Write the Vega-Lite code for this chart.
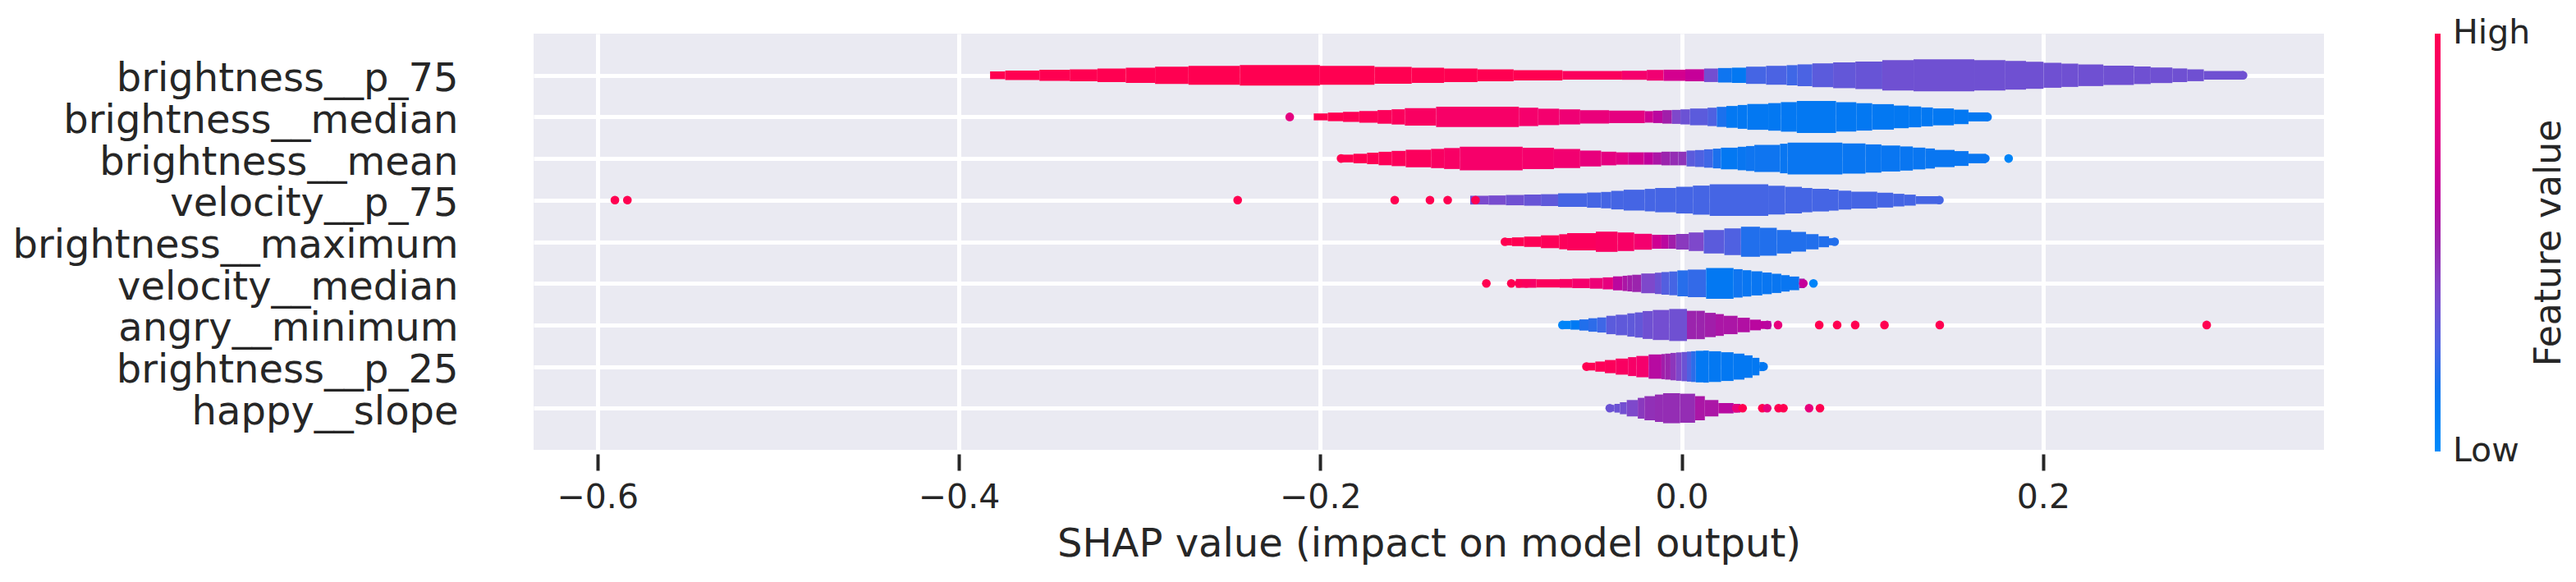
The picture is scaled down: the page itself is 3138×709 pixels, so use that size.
{
  "$schema": "https://vega.github.io/schema/vega-lite/v6.json",
  "width": 2181,
  "height": 507,
  "autosize": {"type": "none"},
  "padding": {"left": 650, "top": 41, "right": 307, "bottom": 161},
  "background": "#ffffff",
  "config": {
    "font": "DejaVu Sans",
    "view": {"fill": "#eaeaf2", "stroke": null},
    "axis": {"titleFontWeight": "normal"}
  },
  "datasets": {
    "features": [
      {"f": "brightness__p_75", "rank": 0},
      {"f": "brightness__median", "rank": 1},
      {"f": "brightness__mean", "rank": 2},
      {"f": "velocity__p_75", "rank": 3},
      {"f": "brightness__maximum", "rank": 4},
      {"f": "velocity__median", "rank": 5},
      {"f": "angry__minimum", "rank": 6},
      {"f": "brightness__p_25", "rank": 7},
      {"f": "happy__slope", "rank": 8}
    ],
    "dots": [
      {"f": "brightness__p_75", "x": 0.3106, "v": 0.34},
      {"f": "brightness__median", "x": -0.2169, "v": 0.78},
      {"f": "brightness__median", "x": 0.1692, "v": 0.13},
      {"f": "brightness__mean", "x": -0.1885, "v": 1},
      {"f": "brightness__mean", "x": 0.168, "v": 0.14},
      {"f": "brightness__mean", "x": 0.1809, "v": 0.05},
      {"f": "velocity__p_75", "x": -0.5903, "v": 1},
      {"f": "velocity__p_75", "x": -0.5834, "v": 1},
      {"f": "velocity__p_75", "x": -0.2457, "v": 1},
      {"f": "velocity__p_75", "x": -0.1588, "v": 1},
      {"f": "velocity__p_75", "x": -0.1393, "v": 1},
      {"f": "velocity__p_75", "x": -0.1295, "v": 1},
      {"f": "velocity__p_75", "x": -0.1141, "v": 1},
      {"f": "velocity__p_75", "x": 0.1426, "v": 0.24},
      {"f": "brightness__maximum", "x": -0.0978, "v": 1},
      {"f": "brightness__maximum", "x": 0.0846, "v": 0.18},
      {"f": "velocity__median", "x": -0.1081, "v": 1},
      {"f": "velocity__median", "x": -0.0943, "v": 1},
      {"f": "velocity__median", "x": -0.09, "v": 0.97},
      {"f": "velocity__median", "x": -0.086, "v": 0.95},
      {"f": "velocity__median", "x": 0.0673, "v": 0.64},
      {"f": "velocity__median", "x": 0.0729, "v": 0.05},
      {"f": "angry__minimum", "x": -0.066, "v": 0.05},
      {"f": "angry__minimum", "x": 0.0474, "v": 0.6},
      {"f": "angry__minimum", "x": 0.0533, "v": 0.8},
      {"f": "angry__minimum", "x": 0.0761, "v": 1},
      {"f": "angry__minimum", "x": 0.086, "v": 1},
      {"f": "angry__minimum", "x": 0.096, "v": 1},
      {"f": "angry__minimum", "x": 0.1122, "v": 1},
      {"f": "angry__minimum", "x": 0.1428, "v": 1},
      {"f": "angry__minimum", "x": 0.2905, "v": 1},
      {"f": "brightness__p_25", "x": -0.0527, "v": 1},
      {"f": "brightness__p_25", "x": 0.0453, "v": 0.13},
      {"f": "happy__slope", "x": -0.0398, "v": 0.33},
      {"f": "happy__slope", "x": 0.0302, "v": 0.8},
      {"f": "happy__slope", "x": 0.0337, "v": 1},
      {"f": "happy__slope", "x": 0.0446, "v": 1},
      {"f": "happy__slope", "x": 0.0473, "v": 0.8},
      {"f": "happy__slope", "x": 0.0536, "v": 1},
      {"f": "happy__slope", "x": 0.0563, "v": 1},
      {"f": "happy__slope", "x": 0.0705, "v": 0.8},
      {"f": "happy__slope", "x": 0.0765, "v": 1}
    ],
    "violin": [
      {"f": "brightness__p_75", "a": -0.3827, "b": -0.3743, "w": 0.093, "v": 1},
      {"f": "brightness__p_75", "a": -0.3743, "b": -0.3554, "w": 0.112, "v": 1},
      {"f": "brightness__p_75", "a": -0.3554, "b": -0.3386, "w": 0.132, "v": 1},
      {"f": "brightness__p_75", "a": -0.3386, "b": -0.3233, "w": 0.144, "v": 1},
      {"f": "brightness__p_75", "a": -0.3233, "b": -0.3076, "w": 0.164, "v": 1},
      {"f": "brightness__p_75", "a": -0.3076, "b": -0.2914, "w": 0.183, "v": 1},
      {"f": "brightness__p_75", "a": -0.2914, "b": -0.2729, "w": 0.207, "v": 1},
      {"f": "brightness__p_75", "a": -0.2729, "b": -0.2445, "w": 0.227, "v": 1},
      {"f": "brightness__p_75", "a": -0.2445, "b": -0.2002, "w": 0.247, "v": 1},
      {"f": "brightness__p_75", "a": -0.2002, "b": -0.17, "w": 0.227, "v": 1},
      {"f": "brightness__p_75", "a": -0.17, "b": -0.1494, "w": 0.203, "v": 1},
      {"f": "brightness__p_75", "a": -0.1494, "b": -0.1315, "w": 0.183, "v": 1},
      {"f": "brightness__p_75", "a": -0.1315, "b": -0.113, "w": 0.162, "v": 1},
      {"f": "brightness__p_75", "a": -0.113, "b": -0.093, "w": 0.142, "v": 1},
      {"f": "brightness__p_75", "a": -0.093, "b": -0.066, "w": 0.122, "v": 1},
      {"f": "brightness__p_75", "a": -0.066, "b": -0.033, "w": 0.103, "v": 0.95},
      {"f": "brightness__p_75", "a": -0.033, "b": -0.0193, "w": 0.108, "v": 0.88},
      {"f": "brightness__p_75", "a": -0.0193, "b": -0.01, "w": 0.128, "v": 0.85},
      {"f": "brightness__p_75", "a": -0.01, "b": 0.002, "w": 0.134, "v": 0.7},
      {"f": "brightness__p_75", "a": 0.002, "b": 0.0124, "w": 0.144, "v": 0.64},
      {"f": "brightness__p_75", "a": 0.0124, "b": 0.0201, "w": 0.162, "v": 0.35},
      {"f": "brightness__p_75", "a": 0.0201, "b": 0.0278, "w": 0.174, "v": 0.15},
      {"f": "brightness__p_75", "a": 0.0278, "b": 0.0356, "w": 0.183, "v": 0.13},
      {"f": "brightness__p_75", "a": 0.0356, "b": 0.0467, "w": 0.207, "v": 0.24},
      {"f": "brightness__p_75", "a": 0.0467, "b": 0.0581, "w": 0.227, "v": 0.25},
      {"f": "brightness__p_75", "a": 0.0581, "b": 0.0641, "w": 0.243, "v": 0.23},
      {"f": "brightness__p_75", "a": 0.0641, "b": 0.0723, "w": 0.262, "v": 0.25},
      {"f": "brightness__p_75", "a": 0.0723, "b": 0.0838, "w": 0.286, "v": 0.29},
      {"f": "brightness__p_75", "a": 0.0838, "b": 0.0961, "w": 0.31, "v": 0.31},
      {"f": "brightness__p_75", "a": 0.0961, "b": 0.111, "w": 0.331, "v": 0.32},
      {"f": "brightness__p_75", "a": 0.111, "b": 0.1283, "w": 0.365, "v": 0.34},
      {"f": "brightness__p_75", "a": 0.1283, "b": 0.1619, "w": 0.385, "v": 0.34},
      {"f": "brightness__p_75", "a": 0.1619, "b": 0.1791, "w": 0.365, "v": 0.34},
      {"f": "brightness__p_75", "a": 0.1791, "b": 0.1905, "w": 0.345, "v": 0.34},
      {"f": "brightness__p_75", "a": 0.1905, "b": 0.2002, "w": 0.325, "v": 0.34},
      {"f": "brightness__p_75", "a": 0.2002, "b": 0.2101, "w": 0.3, "v": 0.34},
      {"f": "brightness__p_75", "a": 0.2101, "b": 0.2194, "w": 0.28, "v": 0.34},
      {"f": "brightness__p_75", "a": 0.2194, "b": 0.2333, "w": 0.26, "v": 0.34},
      {"f": "brightness__p_75", "a": 0.2333, "b": 0.2502, "w": 0.233, "v": 0.34},
      {"f": "brightness__p_75", "a": 0.2502, "b": 0.2595, "w": 0.211, "v": 0.34},
      {"f": "brightness__p_75", "a": 0.2595, "b": 0.2715, "w": 0.187, "v": 0.34},
      {"f": "brightness__p_75", "a": 0.2715, "b": 0.2797, "w": 0.164, "v": 0.34},
      {"f": "brightness__p_75", "a": 0.2797, "b": 0.2889, "w": 0.142, "v": 0.34},
      {"f": "brightness__p_75", "a": 0.2889, "b": 0.311, "w": 0.103, "v": 0.34},

      {"f": "brightness__median", "a": -0.2036, "b": -0.1958, "w": 0.083, "v": 1},
      {"f": "brightness__median", "a": -0.1958, "b": -0.1874, "w": 0.103, "v": 1},
      {"f": "brightness__median", "a": -0.1874, "b": -0.1784, "w": 0.122, "v": 0.98},
      {"f": "brightness__median", "a": -0.1784, "b": -0.1683, "w": 0.142, "v": 0.97},
      {"f": "brightness__median", "a": -0.1683, "b": -0.1605, "w": 0.164, "v": 0.96},
      {"f": "brightness__median", "a": -0.1605, "b": -0.1532, "w": 0.183, "v": 0.95},
      {"f": "brightness__median", "a": -0.1532, "b": -0.1359, "w": 0.211, "v": 0.93},
      {"f": "brightness__median", "a": -0.1359, "b": -0.0901, "w": 0.243, "v": 0.9},
      {"f": "brightness__median", "a": -0.0901, "b": -0.0794, "w": 0.221, "v": 0.88},
      {"f": "brightness__median", "a": -0.0794, "b": -0.0678, "w": 0.197, "v": 0.87},
      {"f": "brightness__median", "a": -0.0678, "b": -0.0562, "w": 0.181, "v": 0.84},
      {"f": "brightness__median", "a": -0.0562, "b": -0.0402, "w": 0.162, "v": 0.81},
      {"f": "brightness__median", "a": -0.0402, "b": -0.0204, "w": 0.152, "v": 0.78},
      {"f": "brightness__median", "a": -0.0204, "b": -0.0158, "w": 0.138, "v": 0.68},
      {"f": "brightness__median", "a": -0.0158, "b": -0.0107, "w": 0.148, "v": 0.6},
      {"f": "brightness__median", "a": -0.0107, "b": -0.0054, "w": 0.162, "v": 0.52},
      {"f": "brightness__median", "a": -0.0054, "b": -0.0007, "w": 0.168, "v": 0.38},
      {"f": "brightness__median", "a": -0.0007, "b": 0.0046, "w": 0.181, "v": 0.33},
      {"f": "brightness__median", "a": 0.0046, "b": 0.0143, "w": 0.201, "v": 0.29},
      {"f": "brightness__median", "a": 0.0143, "b": 0.0194, "w": 0.221, "v": 0.26},
      {"f": "brightness__median", "a": 0.0194, "b": 0.0247, "w": 0.241, "v": 0.17},
      {"f": "brightness__median", "a": 0.0247, "b": 0.031, "w": 0.262, "v": 0.13},
      {"f": "brightness__median", "a": 0.031, "b": 0.0363, "w": 0.286, "v": 0.13},
      {"f": "brightness__median", "a": 0.0363, "b": 0.0479, "w": 0.31, "v": 0.13},
      {"f": "brightness__median", "a": 0.0479, "b": 0.0549, "w": 0.331, "v": 0.13},
      {"f": "brightness__median", "a": 0.0549, "b": 0.0637, "w": 0.355, "v": 0.13},
      {"f": "brightness__median", "a": 0.0637, "b": 0.0854, "w": 0.385, "v": 0.13},
      {"f": "brightness__median", "a": 0.0854, "b": 0.0966, "w": 0.351, "v": 0.13},
      {"f": "brightness__median", "a": 0.0966, "b": 0.1054, "w": 0.329, "v": 0.13},
      {"f": "brightness__median", "a": 0.1054, "b": 0.1174, "w": 0.306, "v": 0.13},
      {"f": "brightness__median", "a": 0.1174, "b": 0.1256, "w": 0.272, "v": 0.13},
      {"f": "brightness__median", "a": 0.1256, "b": 0.1325, "w": 0.25, "v": 0.13},
      {"f": "brightness__median", "a": 0.1325, "b": 0.139, "w": 0.227, "v": 0.13},
      {"f": "brightness__median", "a": 0.139, "b": 0.1506, "w": 0.203, "v": 0.13},
      {"f": "brightness__median", "a": 0.1506, "b": 0.1587, "w": 0.174, "v": 0.13},
      {"f": "brightness__median", "a": 0.1587, "b": 0.1696, "w": 0.108, "v": 0.13},

      {"f": "brightness__mean", "a": -0.1889, "b": -0.1816, "w": 0.093, "v": 1},
      {"f": "brightness__mean", "a": -0.1816, "b": -0.1741, "w": 0.114, "v": 1},
      {"f": "brightness__mean", "a": -0.1741, "b": -0.1677, "w": 0.138, "v": 0.98},
      {"f": "brightness__mean", "a": -0.1677, "b": -0.1605, "w": 0.162, "v": 0.97},
      {"f": "brightness__mean", "a": -0.1605, "b": -0.1527, "w": 0.183, "v": 0.96},
      {"f": "brightness__mean", "a": -0.1527, "b": -0.1387, "w": 0.211, "v": 0.95},
      {"f": "brightness__mean", "a": -0.1387, "b": -0.1315, "w": 0.231, "v": 0.93},
      {"f": "brightness__mean", "a": -0.1315, "b": -0.1228, "w": 0.252, "v": 0.91},
      {"f": "brightness__mean", "a": -0.1228, "b": -0.088, "w": 0.282, "v": 0.89},
      {"f": "brightness__mean", "a": -0.088, "b": -0.0707, "w": 0.256, "v": 0.88},
      {"f": "brightness__mean", "a": -0.0707, "b": -0.0562, "w": 0.231, "v": 0.86},
      {"f": "brightness__mean", "a": -0.0562, "b": -0.0446, "w": 0.191, "v": 0.8},
      {"f": "brightness__mean", "a": -0.0446, "b": -0.0362, "w": 0.164, "v": 0.78},
      {"f": "brightness__mean", "a": -0.0362, "b": -0.0297, "w": 0.148, "v": 0.76},
      {"f": "brightness__mean", "a": -0.0297, "b": -0.0209, "w": 0.148, "v": 0.7},
      {"f": "brightness__mean", "a": -0.0209, "b": -0.0158, "w": 0.148, "v": 0.62},
      {"f": "brightness__mean", "a": -0.0158, "b": -0.0112, "w": 0.148, "v": 0.55},
      {"f": "brightness__mean", "a": -0.0112, "b": -0.0065, "w": 0.164, "v": 0.5},
      {"f": "brightness__mean", "a": -0.0065, "b": -0.0019, "w": 0.164, "v": 0.47},
      {"f": "brightness__mean", "a": -0.0019, "b": 0.0027, "w": 0.164, "v": 0.45},
      {"f": "brightness__mean", "a": 0.0027, "b": 0.0074, "w": 0.191, "v": 0.29},
      {"f": "brightness__mean", "a": 0.0074, "b": 0.0124, "w": 0.203, "v": 0.26},
      {"f": "brightness__mean", "a": 0.0124, "b": 0.0173, "w": 0.221, "v": 0.23},
      {"f": "brightness__mean", "a": 0.0173, "b": 0.0217, "w": 0.237, "v": 0.17},
      {"f": "brightness__mean", "a": 0.0217, "b": 0.031, "w": 0.26, "v": 0.13},
      {"f": "brightness__mean", "a": 0.031, "b": 0.0356, "w": 0.282, "v": 0.14},
      {"f": "brightness__mean", "a": 0.0356, "b": 0.0402, "w": 0.3, "v": 0.15},
      {"f": "brightness__mean", "a": 0.0402, "b": 0.0544, "w": 0.325, "v": 0.15},
      {"f": "brightness__mean", "a": 0.0544, "b": 0.0586, "w": 0.355, "v": 0.14},
      {"f": "brightness__mean", "a": 0.0586, "b": 0.0889, "w": 0.381, "v": 0.14},
      {"f": "brightness__mean", "a": 0.0889, "b": 0.1017, "w": 0.361, "v": 0.14},
      {"f": "brightness__mean", "a": 0.1017, "b": 0.1105, "w": 0.339, "v": 0.14},
      {"f": "brightness__mean", "a": 0.1105, "b": 0.1209, "w": 0.312, "v": 0.14},
      {"f": "brightness__mean", "a": 0.1209, "b": 0.1279, "w": 0.29, "v": 0.14},
      {"f": "brightness__mean", "a": 0.1279, "b": 0.1348, "w": 0.262, "v": 0.14},
      {"f": "brightness__mean", "a": 0.1348, "b": 0.1401, "w": 0.241, "v": 0.14},
      {"f": "brightness__mean", "a": 0.1401, "b": 0.151, "w": 0.207, "v": 0.14},
      {"f": "brightness__mean", "a": 0.151, "b": 0.1587, "w": 0.178, "v": 0.14},
      {"f": "brightness__mean", "a": 0.1587, "b": 0.1684, "w": 0.114, "v": 0.14},

      {"f": "velocity__p_75", "a": -0.117, "b": -0.1069, "w": 0.105, "v": 0.37},
      {"f": "velocity__p_75", "a": -0.1069, "b": -0.0973, "w": 0.112, "v": 0.36},
      {"f": "velocity__p_75", "a": -0.0973, "b": -0.0872, "w": 0.124, "v": 0.34},
      {"f": "velocity__p_75", "a": -0.0872, "b": -0.0779, "w": 0.134, "v": 0.32},
      {"f": "velocity__p_75", "a": -0.0779, "b": -0.0684, "w": 0.142, "v": 0.3},
      {"f": "velocity__p_75", "a": -0.0684, "b": -0.0524, "w": 0.162, "v": 0.24},
      {"f": "velocity__p_75", "a": -0.0524, "b": -0.0446, "w": 0.183, "v": 0.24},
      {"f": "velocity__p_75", "a": -0.0446, "b": -0.039, "w": 0.197, "v": 0.24},
      {"f": "velocity__p_75", "a": -0.039, "b": -0.0321, "w": 0.223, "v": 0.24},
      {"f": "velocity__p_75", "a": -0.0321, "b": -0.0204, "w": 0.25, "v": 0.24},
      {"f": "velocity__p_75", "a": -0.0204, "b": -0.0147, "w": 0.27, "v": 0.24},
      {"f": "velocity__p_75", "a": -0.0147, "b": -0.0031, "w": 0.292, "v": 0.24},
      {"f": "velocity__p_75", "a": -0.0031, "b": 0.0062, "w": 0.321, "v": 0.24},
      {"f": "velocity__p_75", "a": 0.0062, "b": 0.0155, "w": 0.349, "v": 0.24},
      {"f": "velocity__p_75", "a": 0.0155, "b": 0.0479, "w": 0.379, "v": 0.24},
      {"f": "velocity__p_75", "a": 0.0479, "b": 0.0572, "w": 0.345, "v": 0.24},
      {"f": "velocity__p_75", "a": 0.0572, "b": 0.0665, "w": 0.32, "v": 0.24},
      {"f": "velocity__p_75", "a": 0.0665, "b": 0.0723, "w": 0.292, "v": 0.24},
      {"f": "velocity__p_75", "a": 0.0723, "b": 0.0815, "w": 0.272, "v": 0.24},
      {"f": "velocity__p_75", "a": 0.0815, "b": 0.0868, "w": 0.252, "v": 0.24},
      {"f": "velocity__p_75", "a": 0.0868, "b": 0.0938, "w": 0.227, "v": 0.24},
      {"f": "velocity__p_75", "a": 0.0938, "b": 0.1082, "w": 0.203, "v": 0.24},
      {"f": "velocity__p_75", "a": 0.1082, "b": 0.117, "w": 0.178, "v": 0.24},
      {"f": "velocity__p_75", "a": 0.117, "b": 0.1232, "w": 0.152, "v": 0.24},
      {"f": "velocity__p_75", "a": 0.1232, "b": 0.1295, "w": 0.132, "v": 0.24},
      {"f": "velocity__p_75", "a": 0.1295, "b": 0.143, "w": 0.095, "v": 0.24},

      {"f": "brightness__maximum", "a": -0.0982, "b": -0.0939, "w": 0.089, "v": 1},
      {"f": "brightness__maximum", "a": -0.0939, "b": -0.0872, "w": 0.105, "v": 1},
      {"f": "brightness__maximum", "a": -0.0872, "b": -0.0779, "w": 0.124, "v": 0.98},
      {"f": "brightness__maximum", "a": -0.0779, "b": -0.0678, "w": 0.154, "v": 0.97},
      {"f": "brightness__maximum", "a": -0.0678, "b": -0.0634, "w": 0.181, "v": 0.96},
      {"f": "brightness__maximum", "a": -0.0634, "b": -0.0475, "w": 0.207, "v": 0.95},
      {"f": "brightness__maximum", "a": -0.0475, "b": -0.0355, "w": 0.243, "v": 0.93},
      {"f": "brightness__maximum", "a": -0.0355, "b": -0.0263, "w": 0.223, "v": 0.91},
      {"f": "brightness__maximum", "a": -0.0263, "b": -0.0165, "w": 0.191, "v": 0.87},
      {"f": "brightness__maximum", "a": -0.0165, "b": -0.0112, "w": 0.168, "v": 0.68},
      {"f": "brightness__maximum", "a": -0.0112, "b": -0.0072, "w": 0.168, "v": 0.6},
      {"f": "brightness__maximum", "a": -0.0072, "b": -0.0031, "w": 0.168, "v": 0.52},
      {"f": "brightness__maximum", "a": -0.0031, "b": 0.0039, "w": 0.187, "v": 0.43},
      {"f": "brightness__maximum", "a": 0.0039, "b": 0.0122, "w": 0.223, "v": 0.38},
      {"f": "brightness__maximum", "a": 0.0122, "b": 0.0236, "w": 0.282, "v": 0.29},
      {"f": "brightness__maximum", "a": 0.0236, "b": 0.0328, "w": 0.321, "v": 0.26},
      {"f": "brightness__maximum", "a": 0.0328, "b": 0.0433, "w": 0.361, "v": 0.18},
      {"f": "brightness__maximum", "a": 0.0433, "b": 0.0526, "w": 0.335, "v": 0.18},
      {"f": "brightness__maximum", "a": 0.0526, "b": 0.0606, "w": 0.282, "v": 0.18},
      {"f": "brightness__maximum", "a": 0.0606, "b": 0.0688, "w": 0.237, "v": 0.18},
      {"f": "brightness__maximum", "a": 0.0688, "b": 0.0757, "w": 0.183, "v": 0.18},
      {"f": "brightness__maximum", "a": 0.0757, "b": 0.0815, "w": 0.132, "v": 0.18},
      {"f": "brightness__maximum", "a": 0.0815, "b": 0.085, "w": 0.085, "v": 0.18},

      {"f": "velocity__median", "a": -0.0917, "b": -0.0804, "w": 0.105, "v": 0.9},
      {"f": "velocity__median", "a": -0.0804, "b": -0.0675, "w": 0.099, "v": 0.95},
      {"f": "velocity__median", "a": -0.0675, "b": -0.0606, "w": 0.105, "v": 0.92},
      {"f": "velocity__median", "a": -0.0606, "b": -0.0508, "w": 0.114, "v": 0.88},
      {"f": "velocity__median", "a": -0.0508, "b": -0.0437, "w": 0.128, "v": 0.83},
      {"f": "velocity__median", "a": -0.0437, "b": -0.038, "w": 0.144, "v": 0.79},
      {"f": "velocity__median", "a": -0.038, "b": -0.0327, "w": 0.168, "v": 0.6},
      {"f": "velocity__median", "a": -0.0327, "b": -0.0301, "w": 0.183, "v": 0.55},
      {"f": "velocity__median", "a": -0.0301, "b": -0.0274, "w": 0.193, "v": 0.52},
      {"f": "velocity__median", "a": -0.0274, "b": -0.0224, "w": 0.207, "v": 0.5},
      {"f": "velocity__median", "a": -0.0224, "b": -0.0148, "w": 0.237, "v": 0.38},
      {"f": "velocity__median", "a": -0.0148, "b": -0.0112, "w": 0.256, "v": 0.33},
      {"f": "velocity__median", "a": -0.0112, "b": -0.0069, "w": 0.272, "v": 0.27},
      {"f": "velocity__median", "a": -0.0069, "b": -0.0024, "w": 0.286, "v": 0.24},
      {"f": "velocity__median", "a": -0.0024, "b": 0.0034, "w": 0.312, "v": 0.19},
      {"f": "velocity__median", "a": 0.0034, "b": 0.0135, "w": 0.331, "v": 0.21},
      {"f": "velocity__median", "a": 0.0135, "b": 0.0287, "w": 0.371, "v": 0.13},
      {"f": "velocity__median", "a": 0.0287, "b": 0.0337, "w": 0.341, "v": 0.15},
      {"f": "velocity__median", "a": 0.0337, "b": 0.0385, "w": 0.316, "v": 0.14},
      {"f": "velocity__median", "a": 0.0385, "b": 0.0446, "w": 0.29, "v": 0.14},
      {"f": "velocity__median", "a": 0.0446, "b": 0.0498, "w": 0.26, "v": 0.14},
      {"f": "velocity__median", "a": 0.0498, "b": 0.0551, "w": 0.231, "v": 0.14},
      {"f": "velocity__median", "a": 0.0551, "b": 0.0597, "w": 0.197, "v": 0.14},
      {"f": "velocity__median", "a": 0.0597, "b": 0.065, "w": 0.164, "v": 0.14},
      {"f": "velocity__median", "a": 0.065, "b": 0.068, "w": 0.114, "v": 0.5},

      {"f": "angry__minimum", "a": -0.0664, "b": -0.0615, "w": 0.099, "v": 0.05},
      {"f": "angry__minimum", "a": -0.0615, "b": -0.0566, "w": 0.112, "v": 0.12},
      {"f": "angry__minimum", "a": -0.0566, "b": -0.0516, "w": 0.134, "v": 0.18},
      {"f": "angry__minimum", "a": -0.0516, "b": -0.0467, "w": 0.162, "v": 0.2},
      {"f": "angry__minimum", "a": -0.0467, "b": -0.0417, "w": 0.181, "v": 0.23},
      {"f": "angry__minimum", "a": -0.0417, "b": -0.0365, "w": 0.221, "v": 0.29},
      {"f": "angry__minimum", "a": -0.0365, "b": -0.0301, "w": 0.247, "v": 0.3},
      {"f": "angry__minimum", "a": -0.0301, "b": -0.0259, "w": 0.28, "v": 0.3},
      {"f": "angry__minimum", "a": -0.0259, "b": -0.0216, "w": 0.302, "v": 0.31},
      {"f": "angry__minimum", "a": -0.0216, "b": -0.016, "w": 0.335, "v": 0.34},
      {"f": "angry__minimum", "a": -0.016, "b": -0.0069, "w": 0.361, "v": 0.35},
      {"f": "angry__minimum", "a": -0.0069, "b": 0.0029, "w": 0.385, "v": 0.34},
      {"f": "angry__minimum", "a": 0.0029, "b": 0.0082, "w": 0.341, "v": 0.5},
      {"f": "angry__minimum", "a": 0.0082, "b": 0.0128, "w": 0.341, "v": 0.5},
      {"f": "angry__minimum", "a": 0.0128, "b": 0.0188, "w": 0.292, "v": 0.52},
      {"f": "angry__minimum", "a": 0.0188, "b": 0.0233, "w": 0.262, "v": 0.55},
      {"f": "angry__minimum", "a": 0.0233, "b": 0.0309, "w": 0.221, "v": 0.55},
      {"f": "angry__minimum", "a": 0.0309, "b": 0.0377, "w": 0.174, "v": 0.57},
      {"f": "angry__minimum", "a": 0.0377, "b": 0.0438, "w": 0.128, "v": 0.6},
      {"f": "angry__minimum", "a": 0.0438, "b": 0.0494, "w": 0.095, "v": 0.62},

      {"f": "brightness__p_25", "a": -0.0531, "b": -0.0478, "w": 0.093, "v": 0.98},
      {"f": "brightness__p_25", "a": -0.0478, "b": -0.0425, "w": 0.122, "v": 0.97},
      {"f": "brightness__p_25", "a": -0.0425, "b": -0.0365, "w": 0.158, "v": 0.96},
      {"f": "brightness__p_25", "a": -0.0365, "b": -0.0297, "w": 0.193, "v": 0.93},
      {"f": "brightness__p_25", "a": -0.0297, "b": -0.0251, "w": 0.227, "v": 0.9},
      {"f": "brightness__p_25", "a": -0.0251, "b": -0.0183, "w": 0.256, "v": 0.88},
      {"f": "brightness__p_25", "a": -0.0183, "b": -0.0112, "w": 0.292, "v": 0.59},
      {"f": "brightness__p_25", "a": -0.0112, "b": -0.0092, "w": 0.302, "v": 0.52},
      {"f": "brightness__p_25", "a": -0.0092, "b": -0.0062, "w": 0.312, "v": 0.5},
      {"f": "brightness__p_25", "a": -0.0062, "b": -0.0031, "w": 0.329, "v": 0.44},
      {"f": "brightness__p_25", "a": -0.0031, "b": -0.0001, "w": 0.341, "v": 0.38},
      {"f": "brightness__p_25", "a": -0.0001, "b": 0.0029, "w": 0.351, "v": 0.33},
      {"f": "brightness__p_25", "a": 0.0029, "b": 0.0052, "w": 0.361, "v": 0.26},
      {"f": "brightness__p_25", "a": 0.0052, "b": 0.0078, "w": 0.369, "v": 0.2},
      {"f": "brightness__p_25", "a": 0.0078, "b": 0.012, "w": 0.379, "v": 0.13},
      {"f": "brightness__p_25", "a": 0.012, "b": 0.015, "w": 0.385, "v": 0.13},
      {"f": "brightness__p_25", "a": 0.015, "b": 0.0218, "w": 0.369, "v": 0.13},
      {"f": "brightness__p_25", "a": 0.0218, "b": 0.0287, "w": 0.345, "v": 0.13},
      {"f": "brightness__p_25", "a": 0.0287, "b": 0.0347, "w": 0.312, "v": 0.13},
      {"f": "brightness__p_25", "a": 0.0347, "b": 0.0392, "w": 0.27, "v": 0.13},
      {"f": "brightness__p_25", "a": 0.0392, "b": 0.043, "w": 0.211, "v": 0.13},
      {"f": "brightness__p_25", "a": 0.043, "b": 0.0457, "w": 0.108, "v": 0.13},

      {"f": "happy__slope", "a": -0.0402, "b": -0.0372, "w": 0.079, "v": 0.33},
      {"f": "happy__slope", "a": -0.0372, "b": -0.0342, "w": 0.105, "v": 0.33},
      {"f": "happy__slope", "a": -0.0342, "b": -0.0304, "w": 0.144, "v": 0.35},
      {"f": "happy__slope", "a": -0.0304, "b": -0.0243, "w": 0.197, "v": 0.38},
      {"f": "happy__slope", "a": -0.0243, "b": -0.0206, "w": 0.25, "v": 0.43},
      {"f": "happy__slope", "a": -0.0206, "b": -0.0148, "w": 0.29, "v": 0.46},
      {"f": "happy__slope", "a": -0.0148, "b": -0.0103, "w": 0.329, "v": 0.47},
      {"f": "happy__slope", "a": -0.0103, "b": -0.0009, "w": 0.361, "v": 0.47},
      {"f": "happy__slope", "a": -0.0009, "b": 0.0074, "w": 0.349, "v": 0.47},
      {"f": "happy__slope", "a": 0.0074, "b": 0.0128, "w": 0.29, "v": 0.55},
      {"f": "happy__slope", "a": 0.0128, "b": 0.0203, "w": 0.197, "v": 0.55},
      {"f": "happy__slope", "a": 0.0203, "b": 0.0287, "w": 0.124, "v": 0.59},
      {"f": "happy__slope", "a": 0.0287, "b": 0.0324, "w": 0.105, "v": 0.62}
    ]
  },
  "layer": [
    {
      "data": {"name": "violin"},
      "transform": [
        {"lookup": "f", "from": {"data": {"name": "features"}, "key": "f", "fields": ["rank"]}},
        {"calculate": "datum.rank - datum.w", "as": "lo"},
        {"calculate": "datum.rank + datum.w", "as": "hi"}
      ],
      "mark": {"type": "rect"},
      "encoding": {
        "x": {
          "field": "a", "type": "quantitative",
          "title": "SHAP value (impact on model output)",
          "scale": {"domain": [-0.6353, 0.3554], "nice": false, "zero": false},
          "axis": {
            "values": [-0.6, -0.4, -0.2, 0, 0.2], "format": ".1f",
            "grid": true, "gridColor": "#ffffff", "gridWidth": 5,
            "domain": false, "ticks": true, "tickColor": "#262626", "tickSize": 20, "tickWidth": 4,
            "offset": 5, "labelFontSize": 41, "labelColor": "#262626", "labelPadding": 13, "labelFlush": false,
            "titleFontSize": 48, "titleColor": "#262626", "titlePadding": 13, "titleFontWeight": "normal"
          }
        },
        "x2": {"field": "b"},
        "y": {
          "field": "lo", "type": "quantitative",
          "scale": {"domain": [-1, 9], "reverse": true, "nice": false, "zero": false},
          "axis": null
        },
        "y2": {"field": "hi"},
        "color": {
          "field": "v", "type": "quantitative",
          "scale": {
            "domain": [0, 0.125, 0.25, 0.375, 0.5, 0.625, 0.75, 0.875, 1],
            "range": ["#008bfb", "#0079f3", "#4b63e3", "#7d49cc", "#9b24ad", "#c2009c", "#e00086", "#f5006d", "#ff0051"],
            "interpolate": "rgb", "clamp": true
          },
          "legend": {
            "type": "gradient",
            "title": "Feature value", "orient": "right", "offset": 135, "direction": "vertical",
            "gradientLength": 509, "gradientThickness": 7, "gradientStrokeWidth": 0,
            "values": [0, 1], "labelExpr": "datum.value >= 1 ? 'High' : 'Low'",
            "labelFontSize": 41, "labelColor": "#262626", "labelOffset": 15, "labelOverlap": false,
            "titleOrient": "right", "titleFontSize": 44, "titleFontWeight": "normal",
            "titleColor": "#262626", "titleAnchor": "middle", "titlePadding": 2, "titleLimit": 1000, "padding": 0,
            "encode": {
              "labels": {"update": {"baseline": {"value": "middle"}}},
              "title": {"update": {"angle": {"value": 270}, "baseline": {"value": "top"}}}
            }
          }
        }
      }
    },
    {
      "data": {"name": "dots"},
      "mark": {"type": "circle", "opacity": 1, "size": 113},
      "encoding": {
        "x": {"field": "x", "type": "quantitative", "title": "SHAP value (impact on model output)"},
        "y": {
          "field": "f", "type": "nominal", "title": null,
          "scale": {
            "type": "point", "padding": 1,
            "domain": ["brightness__p_75", "brightness__median", "brightness__mean", "velocity__p_75", "brightness__maximum", "velocity__median", "angry__minimum", "brightness__p_25", "happy__slope"]
          },
          "axis": {
            "grid": true, "gridColor": "#ffffff", "gridWidth": 5,
            "domain": false, "ticks": false, "tickSize": 0,
            "labelFontSize": 48, "labelColor": "#262626", "labelPadding": 92,
            "labelBaseline": "alphabetic", "labelOffset": 19, "labelLimit": 1000
          }
        },
        "color": {"field": "v", "type": "quantitative"}
      }
    },
    {
      "mark": {"type": "rule", "color": "#999999", "strokeWidth": 5},
      "encoding": {"x": {"datum": 0, "type": "quantitative"}}
    },
    {
      "mark": {"type": "rule", "color": "#ffffff", "strokeWidth": 3},
      "encoding": {"x": {"datum": 0, "type": "quantitative"}}
    }
  ],
  "resolve": {"scale": {"y": "independent"}}
}
